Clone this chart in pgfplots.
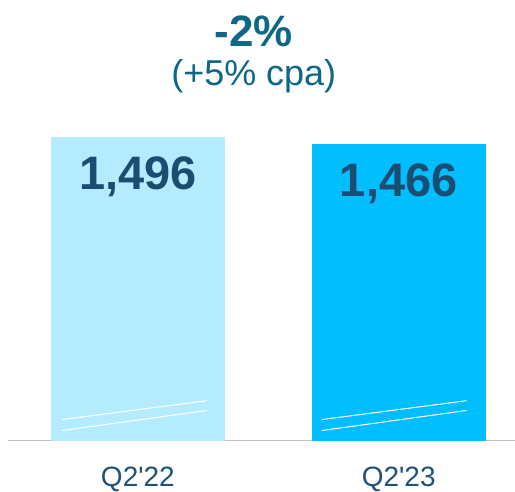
\documentclass[border=0pt]{standalone}
\usepackage{fontspec}
\setmainfont{Liberation Sans}
\usepackage{pgfplots}
\pgfplotsset{compat=1.18}
\usetikzlibrary{calc}
\definecolor{lightbar}{HTML}{B4EBFE}
\definecolor{brightbar}{HTML}{00BEFF}
\definecolor{valtext}{HTML}{1B4D72}
\definecolor{titletext}{HTML}{0E6786}
\definecolor{ticktext}{HTML}{1F5373}
\definecolor{baseline}{HTML}{C0C0C0}

\begin{document}
\begin{tikzpicture}
\begin{axis}[
  name=ax,
  scale only axis,
  width=507pt, height=341pt,
  xmin=-0.498, xmax=1.444,
  ymin=195, ymax=1656,
  ybar, bar width=0.666, bar shift=0pt,
  axis x line*=bottom, axis y line=none,
  axis line style={draw=baseline, line width=1pt, -},
  xtick={0,1}, xticklabels={Q2\textquotesingle22, Q2\textquotesingle23},
  major tick length=0pt,
  xticklabel style={inner sep=0pt, anchor=north, yshift=-26pt,
    text=ticktext, font=\fontsize{28}{28}\selectfont},
  /pgf/number format/assume math mode=true,
  /pgf/number format/1000 sep={,},
  nodes near coords,
  nodes near coords style={anchor=north, inner sep=0pt, yshift=-19pt,
    text=valtext, font=\bfseries\fontsize{47}{47}\selectfont},
]
\addplot[fill=lightbar, draw=none] coordinates {(0,1496)};
\addplot[fill=brightbar, draw=none] coordinates {(1,1466)};
% white break marks near the bottom of each bar
\addplot[sharp plot, white, line width=1pt, nodes near coords={}] coordinates {(-0.291,285) (0.264,366)};
\addplot[sharp plot, white, line width=1pt, nodes near coords={}] coordinates {(-0.291,238) (0.264,324)};
\addplot[sharp plot, white, line width=1pt, nodes near coords={}] coordinates {(0.705,285) (1.260,366)};
\addplot[sharp plot, white, line width=1pt, nodes near coords={}] coordinates {(0.705,238) (1.260,324)};
\end{axis}
\node[anchor=base, inner sep=0pt, text=titletext, font=\bfseries\fontsize{44}{44}\selectfont]
  at ($(ax.north west)+(246pt,53pt)$) {-2\%};
\node[anchor=base, inner sep=0pt, text=titletext, font=\fontsize{36}{36}\selectfont]
  at ($(ax.north west)+(246pt,14pt)$) {(+5\% cpa)};
\path ($(ax.south west)+(-8pt,-51pt)$) ($(ax.north east)+(0pt,100pt)$);
\end{tikzpicture}
\end{document}
